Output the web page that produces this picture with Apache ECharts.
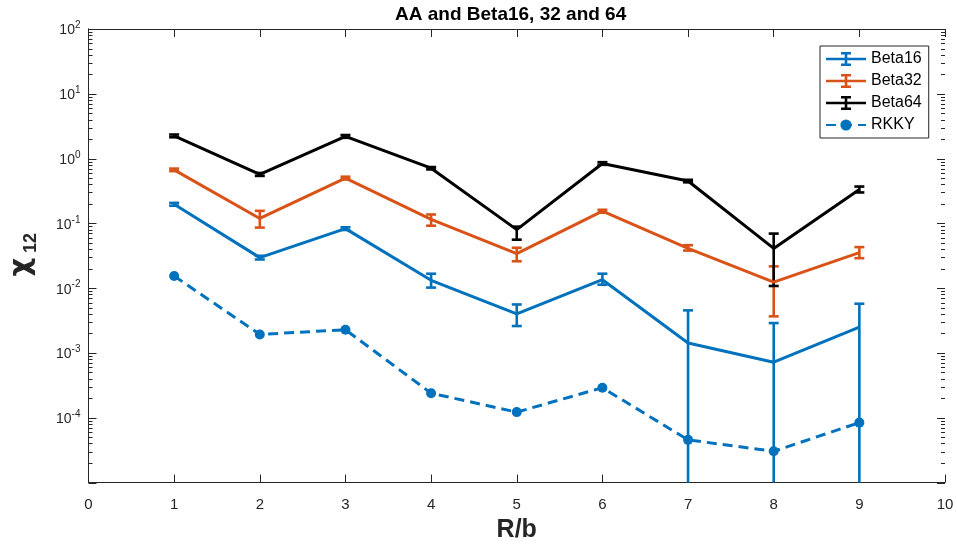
<!DOCTYPE html>
<html>
<head>
<meta charset="utf-8">
<script src="https://cdn.jsdelivr.net/npm/echarts@6/dist/echarts.min.js"></script>
<style>
  html, body { margin: 0; padding: 0; background: #fff; }
  #chart { width: 957px; height: 546px; }
</style>
</head>
<body>
<div id="chart"></div>
<script>
// R/b positions
const rb = [1, 2, 3, 4, 5, 6, 7, 8, 9];

// chi_12 values, with error bar ends (1e-6 = bar runs off the bottom)
const beta16 = [0.197, 0.0296, 0.083, 0.0132, 0.0040, 0.0135, 0.00142, 0.00072, 0.0025];
const beta16Lo = [0.187, 0.0277, 0.079, 0.0102, 0.0026, 0.0113, 1e-6, 1e-6, 1e-6];
const beta16Hi = [0.207, 0.0316, 0.087, 0.0167, 0.0056, 0.0167, 0.00454, 0.00289, 0.00575];

const beta32 = [0.67, 0.119, 0.50, 0.115, 0.034, 0.154, 0.041, 0.0124, 0.0354];
const beta32Lo = [0.64, 0.086, 0.475, 0.092, 0.026, 0.146, 0.038, 0.00367, 0.029];
const beta32Hi = [0.70, 0.156, 0.525, 0.137, 0.042, 0.162, 0.046, 0.0217, 0.043];

const beta64 = [2.24, 0.57, 2.2, 0.71, 0.080, 0.84, 0.45, 0.041, 0.333];
const beta64Lo = [2.13, 0.54, 2.09, 0.68, 0.056, 0.80, 0.43, 0.0108, 0.30];
const beta64Hi = [2.35, 0.60, 2.31, 0.74, 0.089, 0.88, 0.47, 0.0695, 0.37];

const rkky = [0.0154, 0.00193, 0.00228, 0.000239, 0.000122, 0.00029, 4.55e-5, 3.03e-5, 8.4e-5];

// log axis ticks: decades (major) and 2..9 inside each decade (minor)
const decades = [1e-5, 1e-4, 1e-3, 1e-2, 1e-1, 1, 10, 100];
const minorMantissa = [2, 3, 4, 5, 6, 7, 8, 9];

const BLUE = '#0072BD';
const ORANGE = '#D95319';
const BLACK = '#000000';
const AXIS = '#262626';
const FONT = 'Liberation Sans, Arial, sans-serif';

const chart = echarts.init(document.getElementById('chart'));

function pairs(ys) {
  return rb.map((x, i) => [x, ys[i]]);
}

function errData(lo, hi) {
  return rb.map((x, i) => [x, lo[i], hi[i]]);
}

function renderErr(params, api) {
  const x = api.value(0);
  const top = api.coord([x, api.value(2)]);
  const bot = api.coord([x, api.value(1)]);
  const cs = params.coordSys;
  const floor = cs.y + cs.height;
  const half = 5;
  const color = api.visual('color');
  const lines = [
    [top[0], top[1], top[0], Math.min(bot[1], floor)],
    [top[0] - half, top[1], top[0] + half, top[1]]
  ];
  if (bot[1] <= floor) {
    lines.push([bot[0] - half, bot[1], bot[0] + half, bot[1]]);
  }
  return {
    type: 'group',
    children: lines.map(l => ({
      type: 'line',
      shape: { x1: l[0], y1: l[1], x2: l[2], y2: l[3] },
      style: { stroke: color, lineWidth: 2.6 }
    }))
  };
}

// y ticks on both sides of the box, pointing inward
function renderYTick(params, api) {
  const y = Math.round(api.coord([0, api.value(1)])[1]) + 0.5;
  const len = api.value(2);
  const cs = params.coordSys;
  return {
    type: 'group',
    children: [
      { type: 'line', shape: { x1: cs.x, y1: y, x2: cs.x + len, y2: y } },
      { type: 'line', shape: { x1: cs.x + cs.width - len, y1: y, x2: cs.x + cs.width, y2: y } }
    ].map(c => Object.assign(c, { style: { stroke: AXIS, lineWidth: 1 } }))
  };
}

const yTickData = [];
decades.forEach(d => {
  yTickData.push([0, d, 8]);
  if (d < 100) minorMantissa.forEach(m => yTickData.push([0, m * d, 4]));
});

const errIcon = 'path://M0,5.7h40v2.6H0z M18.7,1h2.6v12h-2.6z M15,0h10v2.4H15z M15,11.6h10v2.4H15z';

function logAxis(position) {
  return {
    type: 'log',
    logBase: 10,
    min: 1e-5,
    max: 100,
    splitNumber: 7,
    position: position,
    splitLine: { show: false },
    axisLine: { show: true, lineStyle: { color: AXIS, width: 1 } },
    axisTick: { show: false }
  };
}

function linAxis(position) {
  return {
    type: 'value',
    min: 0,
    max: 10,
    interval: 1,
    position: position,
    splitLine: { show: false },
    axisLine: { show: true, onZero: false, lineStyle: { color: AXIS, width: 1 } },
    axisTick: { show: true, inside: true, length: 8, lineStyle: { color: AXIS } }
  };
}

chart.setOption({
  animation: false,
  backgroundColor: '#fff',
  title: {
    text: 'AA and Beta16, 32 and 64',
    left: 395,
    top: 5,
    padding: 0,
    textStyle: { fontFamily: FONT, fontSize: 19, fontWeight: 'bold', color: '#000' }
  },
  grid: { left: 88.5, right: 12, top: 29, bottom: 63.5, containLabel: false, outerBoundsMode: 'none' },
  legend: {
    orient: 'vertical',
    left: 820,
    top: 46,
    padding: [4, 7, 4, 5],
    itemGap: 4,
    itemWidth: 40,
    itemHeight: 14,
    borderColor: AXIS,
    borderWidth: 1,
    backgroundColor: '#fff',
    textStyle: { fontFamily: FONT, fontSize: 16, color: '#000', lineHeight: 18 },
    data: [
      { name: 'Beta16', icon: errIcon },
      { name: 'Beta32', icon: errIcon },
      { name: 'Beta64', icon: errIcon },
      { name: 'RKKY' }
    ]
  },
  xAxis: [
    Object.assign(linAxis('bottom'), {
      name: 'R/b',
      nameLocation: 'middle',
      nameGap: 33,
      nameTextStyle: { fontFamily: FONT, fontSize: 25, fontWeight: 'bold', color: AXIS },
      axisLabel: { margin: 15, fontFamily: FONT, fontSize: 15, color: AXIS }
    }),
    Object.assign(linAxis('top'), { axisLabel: { show: false } })
  ],
  yAxis: [
    Object.assign(logAxis('left'), {
      name: '{chi|χ}{sub|12}',
      nameLocation: 'middle',
      nameRotate: 90,
      nameGap: 48,
      nameTextStyle: {
        rich: {
          chi: { fontFamily: 'DejaVu Sans, sans-serif', fontSize: 29, fontWeight: 'bold', color: AXIS, verticalAlign: 'top', padding: [6, 3, 0, 2] },
          sub: { fontFamily: FONT, fontSize: 18, fontWeight: 'bold', color: AXIS, verticalAlign: 'bottom', padding: [22, 0, 0, 2] }
        }
      },
      axisLabel: {
        margin: 8,
        showMinLabel: false,
        formatter: v => '{b|10}{s|' + Math.round(Math.log10(v)) + '}',
        rich: {
          b: { fontFamily: FONT, fontSize: 14, color: AXIS, verticalAlign: 'bottom' },
          s: { fontFamily: FONT, fontSize: 10, color: AXIS, verticalAlign: 'bottom', padding: [0, 0, 7, 0] }
        }
      }
    }),
    Object.assign(logAxis('right'), { axisLabel: { show: false } })
  ],
  series: [
    {
      type: 'custom',
      name: 'yticks',
      silent: true,
      renderItem: renderYTick,
      encode: { x: 0, y: 1 },
      data: yTickData,
      z: 1
    },
    {
      name: 'Beta16', type: 'line', data: pairs(beta16), color: BLUE,
      showSymbol: false, symbol: 'none', lineStyle: { width: 3, color: BLUE }
    },
    {
      name: 'Beta16', type: 'custom', color: BLUE, renderItem: renderErr,
      encode: { x: 0, y: [1, 2] }, data: errData(beta16Lo, beta16Hi)
    },
    {
      name: 'Beta32', type: 'line', data: pairs(beta32), color: ORANGE,
      showSymbol: false, symbol: 'none', lineStyle: { width: 3, color: ORANGE }
    },
    {
      name: 'Beta32', type: 'custom', color: ORANGE, renderItem: renderErr,
      encode: { x: 0, y: [1, 2] }, data: errData(beta32Lo, beta32Hi)
    },
    {
      name: 'Beta64', type: 'line', data: pairs(beta64), color: BLACK,
      showSymbol: false, symbol: 'none', lineStyle: { width: 3, color: BLACK }
    },
    {
      name: 'Beta64', type: 'custom', color: BLACK, renderItem: renderErr,
      encode: { x: 0, y: [1, 2] }, data: errData(beta64Lo, beta64Hi)
    },
    {
      name: 'RKKY', type: 'line', data: pairs(rkky), color: BLUE,
      symbol: 'circle', symbolSize: 10, showSymbol: true,
      itemStyle: { color: BLUE },
      lineStyle: { width: 3, color: BLUE, type: [10, 6] }
    }
  ]
});
</script>
</body>
</html>
